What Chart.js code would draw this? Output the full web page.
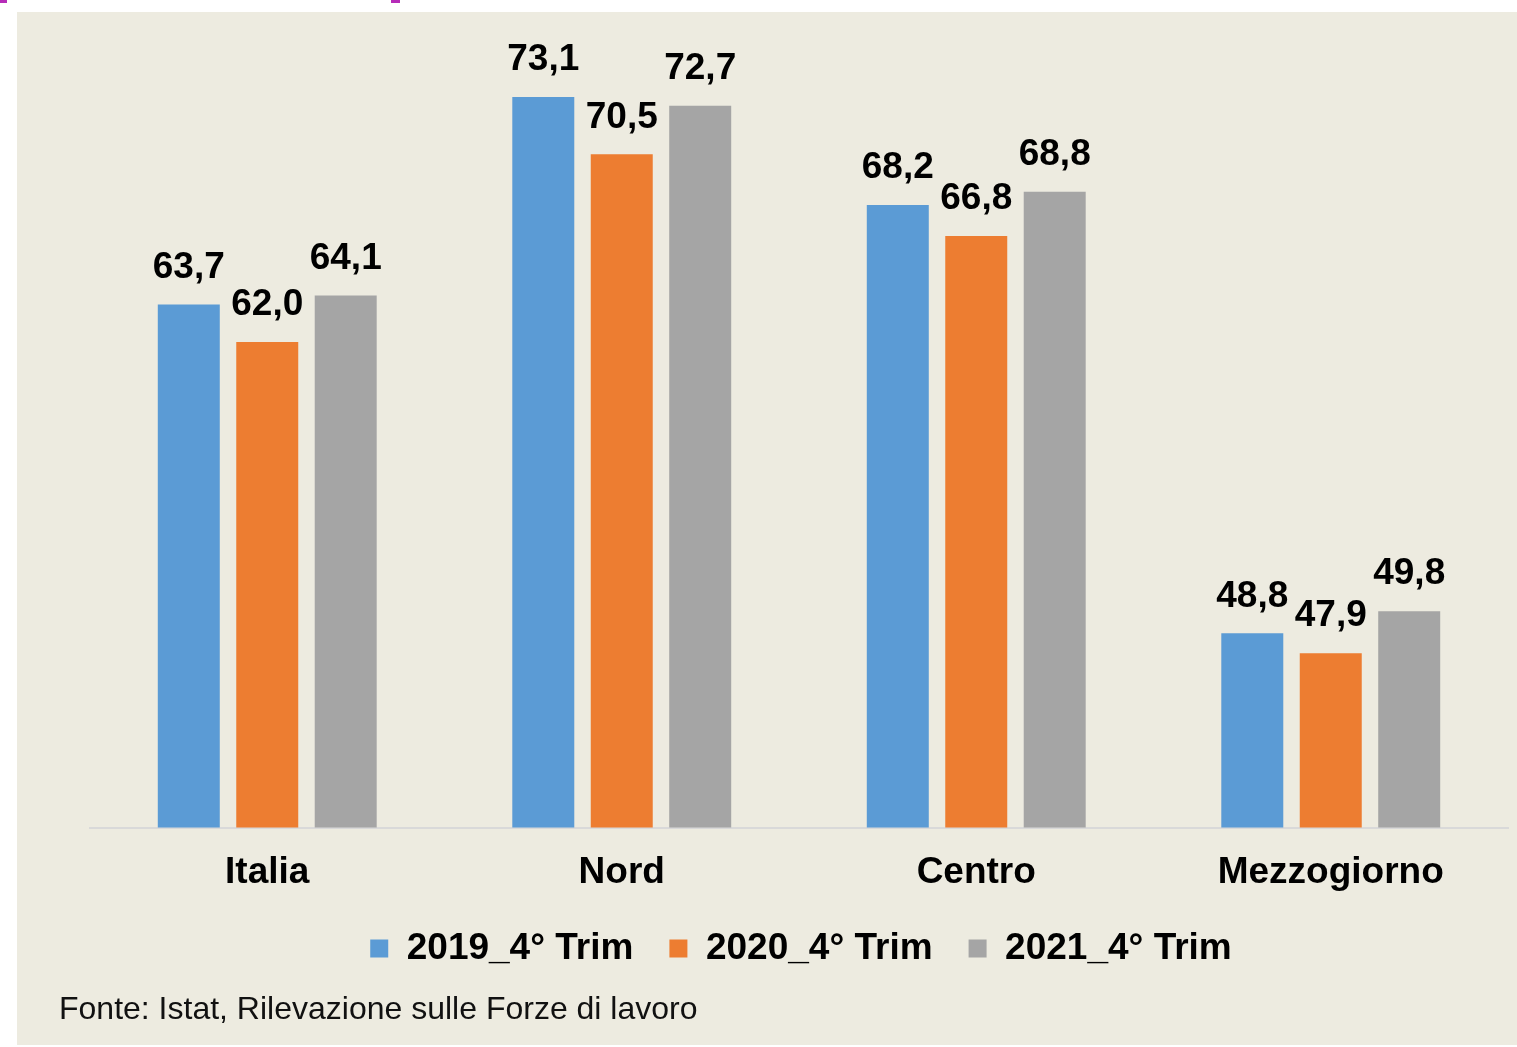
<!DOCTYPE html>
<html>
<head>
<meta charset="utf-8">
<script src="https://cdn.jsdelivr.net/npm/chart.js@4"></script>
<style>
  html, body { margin: 0; padding: 0; background: #fff; width: 1517px; height: 1047px; overflow: hidden; }
  #panel { position: absolute; left: 17px; top: 12px; width: 1500px; height: 1033px; background: #EDEBE0; }
  .mark { position: absolute; top: 0; height: 3px; background: #B62CB8; }
  #chart { position: absolute; left: 0; top: 0; }
  #source { position: absolute; left: 59px; top: 990px; font: 32px "Liberation Sans", Arial, sans-serif; color: #111; white-space: nowrap; }
</style>
</head>
<body>
<div class="mark" style="left:0;width:7px"></div>
<div class="mark" style="left:391px;width:9px"></div>
<div id="panel"></div>
<canvas id="chart" width="1517" height="1047"></canvas>
<div id="source">Fonte: Istat, Rilevazione sulle Forze di lavoro</div>
<script>
const categories = ['Italia', 'Nord', 'Centro', 'Mezzogiorno'];
const seriesNames = ['2019_4° Trim', '2020_4° Trim', '2021_4° Trim'];
const values2019 = [63.7, 73.1, 68.2, 48.8];
const values2020 = [62.0, 70.5, 66.8, 47.9];
const values2021 = [64.1, 72.7, 68.8, 49.8];
const colors = ['#5B9BD5', '#ED7D31', '#A5A5A5'];

const fontFamily = '"Liberation Sans", Arial, sans-serif';

// etichette dei valori sopra le barre
const valueLabels = {
  id: 'valueLabels',
  afterDatasetsDraw(chart) {
    const c = chart.ctx;
    c.save();
    c.font = 'bold 37px ' + fontFamily;
    c.fillStyle = '#000';
    c.textAlign = 'center';
    c.textBaseline = 'middle';
    chart.data.datasets.forEach((ds, i) => {
      chart.getDatasetMeta(i).data.forEach((bar, j) => {
        c.fillText(ds.data[j].toFixed(1).replace('.', ','), bar.x, bar.y - 37);
      });
    });
    c.restore();
  }
};

// legenda un po' piu' vicina all'asse, come nell'originale
const legendShift = {
  id: 'legendShift',
  afterLayout(chart) {
    const lg = chart.legend;
    lg.top -= 16; lg.bottom -= 16;
    lg.left += 2; lg.right += 2;
  }
};

const allValues = [values2019, values2020, values2021];

new Chart(document.getElementById('chart'), {
  type: 'bar',
  data: {
    labels: categories,
    datasets: seriesNames.map((name, i) => ({
      label: name,
      data: allValues[i],
      backgroundColor: colors[i],
      barPercentage: 0.79,
      categoryPercentage: 0.664
    }))
  },
  options: {
    responsive: false,
    animation: false,
    layout: { padding: { left: 90, right: 9, top: 55, bottom: 54 } },
    scales: {
      x: {
        grid: { display: false },
        border: { display: true, color: '#D9D9D9', width: 2 },
        ticks: { color: '#000', font: { family: fontFamily, size: 37, weight: 'bold' }, padding: 15 }
      },
      y: { display: false, min: 40, max: 75 }
    },
    plugins: {
      legend: {
        position: 'bottom',
        labels: {
          color: '#000',
          font: { family: fontFamily, size: 37, weight: 'bold' },
          boxWidth: 18,
          boxHeight: 18,
          padding: 36
        }
      },
      tooltip: { enabled: false }
    }
  },
  plugins: [valueLabels, legendShift]
});
</script>
</body>
</html>
